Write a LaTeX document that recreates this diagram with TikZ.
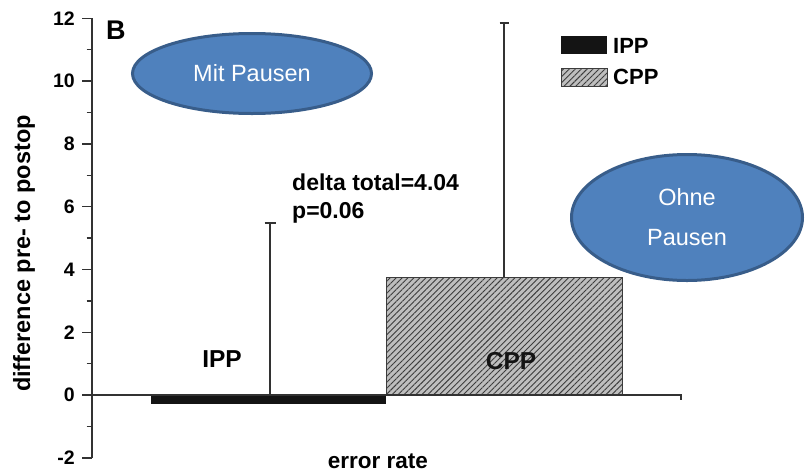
\documentclass[tikz,border=0pt]{standalone}
\usepackage{fontspec}
\setmainfont{Liberation Sans}
\usetikzlibrary{shapes.geometric,patterns.meta}
\definecolor{ellfill}{RGB}{79,129,189}
\definecolor{elldraw}{RGB}{56,93,138}
\definecolor{axiscol}{RGB}{50,50,50}
\definecolor{barblack}{RGB}{20,20,20}
\definecolor{hatchbg}{RGB}{190,190,190}
\definecolor{hatchfg}{RGB}{60,60,60}
\tikzset{
  axisline/.style={draw=axiscol,line width=1.4pt},
  ticklab/.style={anchor=east,inner sep=0pt,font=\fontsize{19.5}{22}\selectfont\bfseries},
  boldlab/.style={inner sep=0pt,font=\fontsize{23}{28}\selectfont\bfseries},
  leglab/.style={anchor=west,inner sep=0pt,font=\fontsize{22}{26}\selectfont\bfseries},
  blob/.style={ellipse,draw=elldraw,fill=ellfill,line width=3pt,inner sep=0pt,text=white,
    align=center},
  hatchbox/.style={fill=hatchbg,postaction={pattern={Lines[angle=45,distance=4.2pt,line width=0.9pt]},pattern color=hatchfg}},
  errbar/.style={draw=axiscol,line width=1.2pt}
}
\begin{document}
\begin{tikzpicture}[x=1pt,y=-1pt]
\useasboundingbox (0,0) rectangle (806,472);
% axis
\draw[axisline] (92,18.2) -- (92,457.8);
\foreach \v in {-2,0,...,12}{
  \draw[axisline] (82,{395-31.4*\v}) -- (92,{395-31.4*\v});
  \node[ticklab] (t\v) at (75,{395-31.4*\v}) {\v};
}
\foreach \v in {-1,1,...,11}{
  \draw[axisline] (86.5,{395-31.4*\v}) -- (92,{395-31.4*\v});
}
% bars
\fill[barblack] (151,395) rectangle (386,404);
\draw[hatchbox,draw=hatchfg,line width=0.8pt] (386,277) rectangle (622,395);
% zero line
\draw[axisline,line width=1.1pt] (92,395) -- (681,395) -- (681,399.5);
% error bars
\coordinate (ippbase) at (270,395);
\coordinate (ipptop) at (270,223);
\draw[errbar] (ippbase) -- (ipptop);
\draw[errbar] (264.5,223) -- (275.5,223);
\coordinate (cppbase) at (504,277);
\coordinate (cpptop) at (504,23);
\draw[errbar] (cppbase) -- (cpptop);
\draw[errbar] (499.5,23) -- (508.5,23);
% legend
\fill[barblack] (561,36) rectangle (607,54);
\draw[hatchbox,draw=hatchfg,line width=0.8pt] (561,68) rectangle (607,86);
\node[leglab] (legipp) at (613,45.5) {IPP};
\node[leglab] (legcpp) at (613,77) {CPP};
% labels
\node[anchor=base west,inner sep=0pt,font=\fontsize{27}{30}\selectfont\bfseries] (B) at (106,39) {B};
\node[boldlab,anchor=base west] (delta) at (292,190) {delta total=4.04};
\node[boldlab,anchor=base west] (pval) at (292,218) {p=0.06};
\node[anchor=base,inner sep=0pt,font=\fontsize{24.5}{28}\selectfont\bfseries] (ipplab) at (222,367) {IPP};
\node[anchor=base,inner sep=0pt,font=\fontsize{24.5}{28}\selectfont\bfseries,text=barblack] (cpplab) at (511,369) {CPP};
\node[boldlab,rotate=90,font=\fontsize{23.5}{28}\selectfont\bfseries] (ylab) at (24,253.5) {difference pre- to postop};
\node[boldlab,anchor=base,font=\fontsize{22.5}{28}\selectfont\bfseries] (xlab) at (378,468) {error rate};
% ellipses
\node[blob,minimum width=239pt,minimum height=80pt,font=\fontsize{23.5}{28}\selectfont] (mit) at (252,73.5) {Mit Pausen};
\node[blob,minimum width=231pt,minimum height=126pt,font=\fontsize{23.5}{40}\selectfont] (ohne) at (687,217.5) {Ohne\\Pausen};
\end{tikzpicture}
\end{document}
